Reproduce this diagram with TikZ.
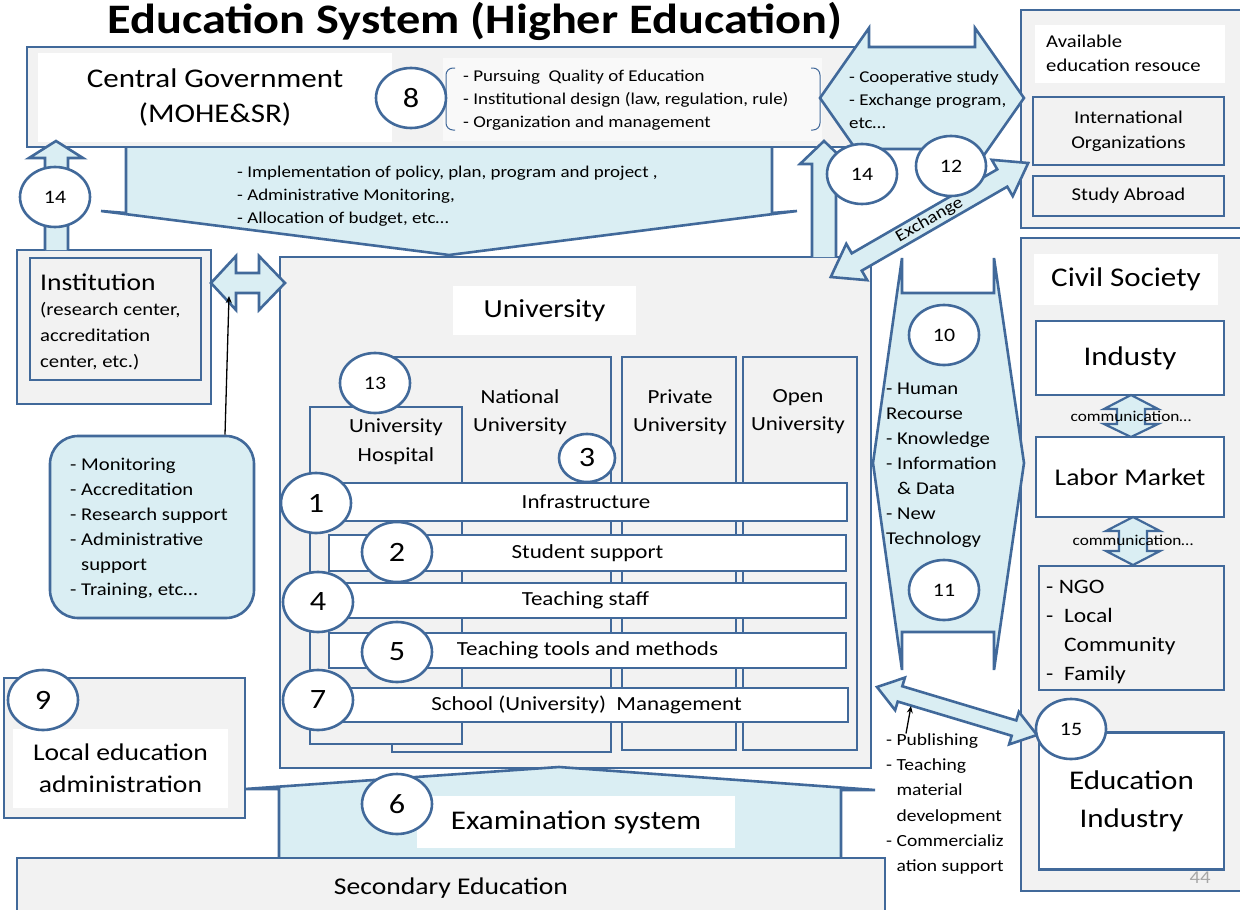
\documentclass[tikz,border=0pt]{standalone}
\usepackage{fontspec}
\setmainfont{Carlito}[FakeStretch=1.15]
\usetikzlibrary{positioning}
\usetikzlibrary{shapes.geometric, arrows.meta}
\definecolor{bdr}{HTML}{41699A}
\definecolor{lblue}{HTML}{DAEEF3}
\definecolor{lgray}{HTML}{F2F2F2}
\definecolor{pale}{HTML}{F9F9F9}
\newcommand{\fsz}[2]{\fontsize{#1}{#2}\selectfont}
\tikzset{
	box/.style={rectangle, draw=bdr, line width=2.6pt, fill=lgray, inner sep=0pt},
	wbox/.style={box, fill=white},
	wfill/.style={rectangle, fill=white, inner sep=0pt},
	bar/.style={wbox, font=\fsz{20}{24}},
	blk/.style={draw=bdr, line width=2.6pt, fill=lblue, line join=miter},
	num/.style={ellipse, draw=bdr, line width=2.6pt, fill=white, inner sep=0pt, minimum width=70pt, minimum height=60pt, font=\fsz{28}{28}},
	numsm/.style={num, font=\fsz{19}{19}},
	txt/.style={inner sep=0pt, align=left},
	pointer/.style={-{Stealth[length=7pt,width=6pt]}, line width=1.3pt, black}
}

\begin{document}
\begin{tikzpicture}[x=1pt, y=-1pt]
	\useasboundingbox (0,0) rectangle (1240,910);
	\clip (0,0) rectangle (1240,910);
	
	% Title
	\node[anchor=base, font=\bfseries\fsz{42}{42}] (title) at (475,34) {Education System (Higher Education)};
	
	% central government
	\draw[blk] (126,147) -- (126,213) -- (101,211) -- (449,255) -- (797,211) -- (772,213) -- (772,147);
	\node[txt, anchor=west, font=\fsz{16.5}{23}] (impl) at (237,196) {- Implementation of policy, plan, program and project ,\\- Administrative Monitoring,\\- Allocation of budget, etc…};
	\node[box, minimum width=828pt, minimum height=100pt] (gov) at (441,97) {};
	\node[wfill, minimum width=354pt, minimum height=89pt, align=center, font=\fsz{27}{35}] (govname) at (215,97.5) {Central Government\\(MOHE\&SR)};
	\node[wfill, fill=pale, minimum width=379pt, minimum height=83pt] (govbg) at (632.5,99.5) {};
	\draw[bdr, line width=1pt, rounded corners=7pt] (455,68) -- (446,68) -- (446,130) -- (455,130);
	\draw[bdr, line width=1pt, rounded corners=7pt] (811,68) -- (820,68) -- (820,130) -- (811,130);
	\node[txt, anchor=west, font=\fsz{16.5}{23}] (govlist) at (463,100) {- Pursuing\ \ Quality of Education\\- Institutional design (law, regulation, rule)\\- Organization and management};
	
	% right column
	\node[box, minimum width=229pt, minimum height=218pt] (avail) at (1135.5,119) {};
	\node[wfill, minimum width=190pt, minimum height=58pt] (availbg) at (1130,54) {};
	\node[txt, anchor=west, font=\fsz{18}{24}] (availtxt) at (1046,53) {Available\\education resouce};
	\node[box, minimum width=191pt, minimum height=68pt, align=center, font=\fsz{18}{25}] (intl) at (1128.5,131) {International\\Organizations};
	\node[box, minimum width=191pt, minimum height=40pt, font=\fsz{18}{22}] (abroad) at (1128.5,196) {Study Abroad};
	
	\node[box, minimum width=229pt, minimum height=653pt] (civil) at (1135.5,564.5) {};
	\node[wfill, minimum width=184pt, minimum height=51pt, font=\fsz{27}{30}] (civiltxt) at (1126,279.5) {Civil Society};
	\node[wbox, minimum width=188pt, minimum height=74pt, font=\fsz{27}{30}] (industy) at (1130,358) {Industy};
	\node[wbox, minimum width=188pt, minimum height=80pt, font=\fsz{24}{28}] (labor) at (1130,477) {Labor Market};
	\node[box, minimum width=185pt, minimum height=124pt] (ngo) at (1131.5,628) {};
	\node[txt, anchor=west, font=\fsz{20.5}{29.3}] (ngotxt) at (1046,632) {- NGO\\-\ \ Local\\\phantom{-\ \ }Community\\-\ \ Family};
	\node[wbox, minimum width=185pt, minimum height=137pt, align=center, font=\fsz{27}{38}] (eduind) at (1131.5,801) {Education\\Industry};
	
	\draw[blk, line width=2.2pt] (1131,395) -- (1158,409) -- (1145,409) -- (1145,424) -- (1158,424) -- (1131,437) -- (1104,424) -- (1117,424) -- (1117,409) -- (1104,409) -- cycle;
	\node[font=\fsz{15}{18}] (comm1) at (1131,416) {communication…};
	\draw[blk, line width=2.2pt] (1133,517) -- (1160,531) -- (1147,531) -- (1147,551) -- (1160,551) -- (1133,565) -- (1106,551) -- (1119,551) -- (1119,531) -- (1106,531) -- cycle;
	\node[font=\fsz{15}{18}] (comm2) at (1133,540) {communication…};
	
	% cooperation arrow
	\draw[blk] (820,98) -- (869,28) -- (869,47) -- (975,47) -- (975,28) -- (1024,98) -- (975,168) -- (975,149) -- (869,149) -- (869,168) -- cycle;
	\node[txt, anchor=west, font=\fsz{16.5}{23}] (coop) at (849,100) {- Cooperative study\\- Exchange program,\\etc…};
	
	% university
	\node[box, minimum width=591pt, minimum height=511pt] (univ) at (575.5,512.5) {};
	\node[wfill, minimum width=183pt, minimum height=49pt, font=\fsz{26}{30}] (univtxt) at (544.5,310.5) {University};
	\node[box, minimum width=219pt, minimum height=395pt] (natl) at (501.5,554.5) {};
	\node[txt, align=center, font=\fsz{20}{28}] (natltxt) at (520,412) {National\\University};
	\node[box, minimum width=152pt, minimum height=337pt] (hosp) at (386,575.5) {};
	\node[txt, align=center, font=\fsz{20}{29}] (hosptxt) at (396,442) {University\\Hospital};
	\node[box, minimum width=114pt, minimum height=393pt] (priv) at (679,553.5) {};
	\node[txt, align=center, font=\fsz{20}{28}] (privtxt) at (680,412) {Private\\University};
	\node[box, minimum width=114pt, minimum height=393pt] (open) at (800,553.5) {};
	\node[txt, align=center, font=\fsz{20}{28}] (opentxt) at (798,412) {Open\\University};
	
	\node[bar, minimum width=522pt, minimum height=38pt] (infra) at (586,502) {Infrastructure};
	\node[bar, minimum width=517pt, minimum height=36pt] (stud) at (587.5,553) {Student support};
	\node[bar, minimum width=521pt, minimum height=35pt] (staff) at (585.5,600.5) {Teaching staff};
	\node[bar, minimum width=517pt, minimum height=35pt] (tools) at (587.5,650.5) {Teaching tools and methods};
	\node[bar, minimum width=523pt, minimum height=34pt] (mgmt) at (586.5,705) {School (University)\ \ Management};
	
	% institution
	\node[box, minimum width=194pt, minimum height=154pt] (inst) at (114,327) {};
	\node[box, line width=1.2pt, minimum width=171pt, minimum height=122pt] (instin) at (115.5,319) {};
	\node[txt, anchor=west, font=\fsz{24}{28}] (insttxt) at (40,282) {Institution};
	\node[txt, anchor=west, font=\fsz{18}{26}] (instsub) at (40,336) {(research center,\\accreditation\\center, etc.)};
	\draw[blk] (211,283) -- (236,256) -- (236,273) -- (259,273) -- (259,256) -- (285,283) -- (259,310) -- (259,293) -- (236,293) -- (236,310) -- cycle;
	
	\draw[blk] (45,250) -- (45,158) -- (29,158) -- (56,141) -- (83,158) -- (68,158) -- (68,250);
	\draw[blk] (812,257) -- (812,164) -- (800,164) -- (824,141) -- (848,164) -- (836,164) -- (836,257);
	
	\node[box, fill=lblue, rounded corners=28pt, minimum width=204pt, minimum height=182pt] (mon) at (152,527) {};
	\node[txt, anchor=west, font=\fsz{18}{25}] (montxt) at (70,528) {- Monitoring\\- Accreditation\\- Research support\\- Administrative\\\phantom{- }support\\- Training, etc…};
	\coordinate (mtip) at (229,296);
	\draw[pointer] ([xshift=73pt]mon.north) -- (mtip);
	
	% human resource arrow
	\draw[blk] (873,463) -- (902,258) -- (902,293) -- (994,293) -- (994,258) -- (1024,463) -- (994,670) -- (994,632) -- (902,632) -- (902,670) -- cycle;
	\node[txt, anchor=west, font=\fsz{18}{25}] (human) at (886,465) {- Human\\Recourse\\- Knowledge\\- Information\\\phantom{- }\& Data\\- New\\Technology};
	
	% exchange arrow
	\begin{scope}[shift={(929.5,220)}, rotate=30]
		\draw[blk] (-114,0) -- (-84,21) -- (-84,10) -- (84,10) -- (84,21) -- (114,0) -- (84,-21) -- (84,-10) -- (-84,-10) -- (-84,-21) -- cycle;
		\node[transform shape, font=\fsz{17}{17}] (exch) at (0,0) {Exchange};
	\end{scope}
	
	% education industry arrow
	\begin{scope}[shift={(957,711)}, rotate=-16.7]
		\draw[blk] (-83.5,0) -- (-59.5,17) -- (-59.5,8) -- (59.5,8) -- (59.5,17) -- (83.5,0) -- (59.5,-17) -- (59.5,-8) -- (-59.5,-8) -- (-59.5,-17) -- cycle;
	\end{scope}
	\node[txt, anchor=west, font=\fsz{17}{25.2}] (pub) at (886,804) {- Publishing\\- Teaching\\\phantom{- }material\\\phantom{- }development\\- Commercializ\\\phantom{- }ation support};
	\coordinate (ptip) at (911,706);
	\draw[pointer] ([xshift=20pt]pub.north west) -- (ptip);
	
	% examination and secondary
	\draw[blk] (279,858) -- (279,789) -- (245,789) -- (559,767) -- (875,790) -- (841,790) -- (841,858);
	\node[wfill, minimum width=318pt, minimum height=52pt, font=\fsz{27}{30}] (exam) at (576,822) {Examination system};
	\node[box, minimum width=868pt, minimum height=60pt, font=\fsz{24}{28}] (second) at (451,888) {Secondary Education};
	
	\node[box, minimum width=241pt, minimum height=140pt] (local) at (124.5,748) {};
	\node[wfill, minimum width=215pt, minimum height=79pt, align=center, font=\fsz{24}{32}] (localtxt) at (120.5,768) {Local education\\administration};
	
	\node[font=\fsz{18}{18}, text=gray!70] (pgno) at (1200,878) {44};
	
	% numbers
	\node[num] (n8) at (411,98) {8};
	\node[numsm] (n14a) at (55,197) {14};
	\node[numsm] (n14b) at (862,174) {14};
	\node[numsm] (n12) at (951,166) {12};
	\node[numsm] (n13) at (375,383) {13};
	\node[num, minimum width=56pt, minimum height=48pt] (n3) at (587,458) {3};
	\node[num] (n1) at (316,503) {1};
	\node[num] (n2) at (397,552) {2};
	\node[num] (n4) at (318,602) {4};
	\node[num] (n5) at (397,652) {5};
	\node[num] (n7) at (318,700) {7};
	\node[numsm] (n10) at (944,335) {10};
	\node[numsm] (n11) at (944,590) {11};
	\node[num] (n9) at (43,700) {9};
	\node[num] (n6) at (397,804) {6};
	\node[numsm] (n15) at (1071,729) {15};
	
\end{tikzpicture}
\end{document}
